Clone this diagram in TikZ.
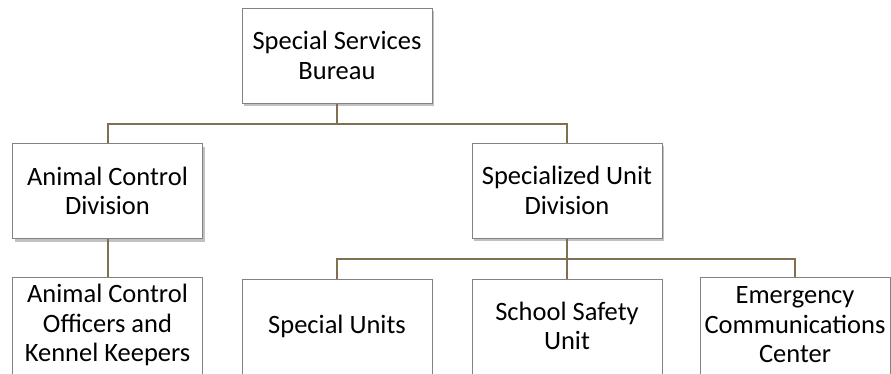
\documentclass[tikz,border=0pt]{standalone}
\usepackage{fontspec}
\setmainfont{Carlito}
\usetikzlibrary{shadows}
\definecolor{linkc}{RGB}{128,112,80}
\definecolor{boxc}{RGB}{130,130,130}
\begin{document}
\begin{tikzpicture}[x=1pt,y=1pt,
  orgbox/.style={draw=boxc, line width=1pt, fill=white, minimum width=190pt, minimum height=95pt,
    inner sep=0pt, align=center, font=\fontsize{26.5}{29.5}\selectfont,
    drop shadow={shadow xshift=2pt, shadow yshift=-3pt, opacity=0.4, fill=black!60}},
  lowbox/.style={draw=boxc, line width=1pt, fill=white, minimum width=190pt, minimum height=100pt,
    inner sep=0pt},
  lowtext/.style={align=center, font=\fontsize{26.5}{29.5}\selectfont, inner sep=0pt},
  link/.style={draw=linkc, line width=2pt}]
\useasboundingbox (0,0) rectangle (891,-373);
\clip (0,0) rectangle (891,-373);
\fill[white] (0,0) rectangle (891,-373);
\coordinate (j1) at (337,-124);
\coordinate (j2) at (567,-259);
\node[orgbox] (top) at (337,-55.5) {Special Services\\Bureau};
\node[orgbox] (acd) at (107.5,-191) {Animal Control\\Division};
\node[orgbox] (sud) at (567,-190.5) {Specialized Unit\\Division};
\node[lowbox, anchor=north] (aco) at (107.5,-277) {};
\node[lowbox, anchor=north] (su) at (337,-279) {};
\node[lowbox, anchor=north] (ss) at (567,-279) {};
\node[lowbox, anchor=north] (ecc) at (795,-277) {};
\node[lowtext] (acot) at (107.5,-325) {Animal Control\\Officers and\\Kennel Keepers};
\node[lowtext] (sut) at (337,-326) {Special Units};
\node[lowtext] (sst) at (567,-326) {School Safety\\Unit};
\node[lowtext] (ecct) at (795,-325) {Emergency\\Communications\\Center};
\draw[link] (top.south) -- (j1);
\draw[link] (j1) -| (acd.north);
\draw[link] (j1) -| (sud.north);
\draw[link] (acd.south) -- (aco.north);
\draw[link] (sud.south) -- (ss.north);
\draw[link] (j2) -| (su.north);
\draw[link] (j2) -| (ecc.north);
\end{tikzpicture}
\end{document}
